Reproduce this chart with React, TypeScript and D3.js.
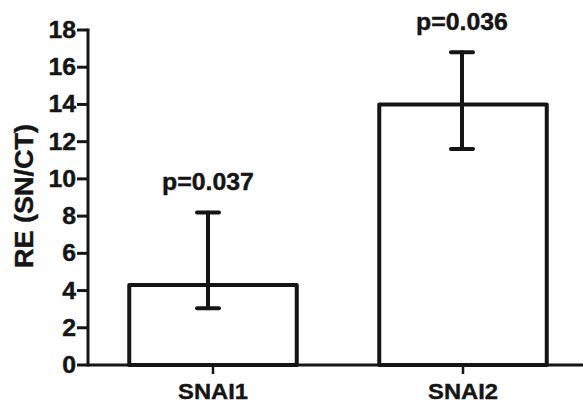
import React, { useEffect, useRef } from 'react';
import * as d3 from 'd3';

// Data
const categories = ['SNAI1', 'SNAI2'];
const means = [4.3, 14.0];
const errLow = [3.05, 11.6];
const errHigh = [8.2, 16.8];
const pLabels = ['p=0.037', 'p=0.036'];
const yTicks = [0, 2, 4, 6, 8, 10, 12, 14, 16, 18];

const width = 583;
const height = 404;
const ink = '#151515';
const font = '"Liberation Sans", Arial, sans-serif';

const App = () => {
  const svgRef = useRef<SVGSVGElement>(null);

  useEffect(() => {
    const svg = d3.select(svgRef.current);
    svg.selectAll('*').remove();

    const x = d3.scaleBand().domain(categories).range([88, 588]).paddingInner(0.33).paddingOuter(0.165);
    const y = d3.scaleLinear().domain([0, 18]).range([365, 30]);

    // slightly wide text, as in the source image
    const stretchText = (g, tx, ty, txt, size, anchor, rot = 0) =>
      g.append('g')
        .attr('transform', `translate(${tx},${ty}) rotate(${rot}) scale(1.08,1)`)
        .append('text')
        .attr('text-anchor', anchor)
        .style('font-family', font)
        .style('font-weight', 'bold')
        .style('font-size', `${size}px`)
        .style('fill', ink)
        .style('stroke', ink)
        .style('stroke-width', 0.4)
        .text(txt);

    // y axis
    svg.append('line')
      .attr('x1', 88).attr('x2', 88)
      .attr('y1', y(18) - 1.5).attr('y2', y(0) + 1.5)
      .attr('stroke', ink).attr('stroke-width', 3);
    yTicks.forEach((t) => {
      svg.append('line')
        .attr('x1', 77).attr('x2', 88)
        .attr('y1', y(t)).attr('y2', y(t))
        .attr('stroke', ink).attr('stroke-width', 3);
      stretchText(svg, 76, y(t) + 8, String(t), 23, 'end');
    });

    // bars
    svg.selectAll('rect.bar')
      .data(means)
      .enter()
      .append('rect')
      .attr('class', 'bar')
      .attr('x', (d, i) => x(categories[i]))
      .attr('y', (d) => y(d))
      .attr('width', x.bandwidth())
      .attr('height', (d) => y(0) - y(d))
      .attr('fill', 'white')
      .attr('stroke', ink)
      .attr('stroke-width', 4)
      .attr('stroke-linejoin', 'round');

    // x axis
    svg.append('line')
      .attr('x1', 88).attr('x2', width)
      .attr('y1', y(0)).attr('y2', y(0))
      .attr('stroke', ink).attr('stroke-width', 3);

    categories.forEach((c, i) => {
      const cx = x(c) + x.bandwidth() / 2;
      svg.append('line')
        .attr('x1', cx).attr('x2', cx)
        .attr('y1', y(0)).attr('y2', y(0) + 9)
        .attr('stroke', ink).attr('stroke-width', 2.5);
      stretchText(svg, cx, 399, c, 22, 'middle');

      // error bar (the first one sits a little left of centre in the source)
      const ex = i === 0 ? cx - 5 : cx - 1;
      const eg = svg.append('g').attr('stroke', ink).attr('stroke-width', 4).attr('stroke-linecap', 'round');
      eg.append('line').attr('x1', ex).attr('x2', ex).attr('y1', y(errHigh[i])).attr('y2', y(errLow[i]));
      eg.append('line').attr('x1', ex - 11).attr('x2', ex + 11).attr('y1', y(errHigh[i])).attr('y2', y(errHigh[i]));
      eg.append('line').attr('x1', ex - 11).attr('x2', ex + 11).attr('y1', y(errLow[i])).attr('y2', y(errLow[i]));

      stretchText(svg, ex, y(errHigh[i]) - 22, pLabels[i], 23, 'middle');
    });

    // y title
    stretchText(svg, 33, 196, 'RE (SN/CT)', 25, 'middle', -90);
  }, []);

  return (
    <svg
      ref={svgRef}
      width={width}
      height={height}
      style={{ position: 'absolute', left: 0, top: 0, background: 'white' }}
    />
  );
};

export default App;
